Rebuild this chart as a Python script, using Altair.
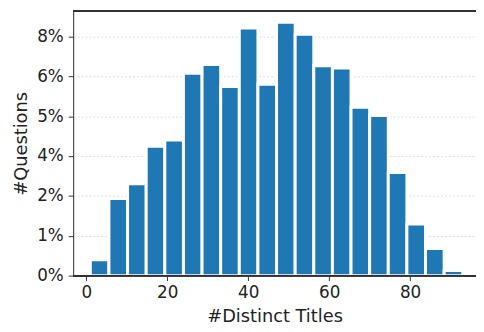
import altair as alt
import pandas as pd

# histogram bin edges (#Distinct Titles)
bin_lo = [1.0, 5.6, 10.2, 14.8, 19.4, 24.0, 28.6, 33.2, 37.8, 42.4,
          47.0, 51.6, 56.2, 60.8, 65.4, 70.0, 74.6, 79.2, 83.8, 88.4]
bin_hi = [5.6, 10.2, 14.8, 19.4, 24.0, 28.6, 33.2, 37.8, 42.4, 47.0,
          51.6, 56.2, 60.8, 65.4, 70.0, 74.6, 79.2, 83.8, 88.4, 93.0]
# share of questions (fraction)
share = [0.0050, 0.0242, 0.0288, 0.0406, 0.0425, 0.0635, 0.0662, 0.0593, 0.0777, 0.0600,
         0.0795, 0.0757, 0.0658, 0.0651, 0.0528, 0.0502, 0.0323, 0.0162, 0.0085, 0.0016]

y_tick_values = [0, 0.0125, 0.025, 0.0375, 0.05, 0.0625, 0.075]
y_tick_labels = ["0%", "1%", "2%", "4%", "5%", "6%", "8%"]
x_tick_values = [0, 20, 40, 60, 80]

df = pd.DataFrame({"lo": bin_lo, "hi": bin_hi, "share": share})

W, H = 408, 268
FONT = "DejaVu Sans"
TXT = "#222222"
SPINE = "#333333"

label_expr = " : ".join(
    [f"abs(datum.value - {v}) < 1e-6 ? '{l}'" for v, l in zip(y_tick_values, y_tick_labels)]
) + " : ''"

x_scale = alt.Scale(domain=[-3.24, 96.27], nice=False, zero=False)
y_scale = alt.Scale(domain=[0, 0.083], nice=False)

bars = alt.Chart(df).mark_rect(color="#1f77b4", stroke="white", strokeWidth=3).encode(
    x=alt.X("lo:Q", scale=x_scale,
            axis=alt.Axis(values=x_tick_values, title="#Distinct Titles", grid=False,
                          domain=True, domainColor=SPINE, domainWidth=1,
                          tickColor=SPINE, tickSize=5, tickWidth=1,
                          labelFont=FONT, labelFontSize=17, labelColor=TXT, labelPadding=4,
                          titleFont=FONT, titleFontSize=18, titleColor=TXT,
                          titleFontWeight="normal", titleY=41, titleBaseline="middle")),
    x2="hi:Q",
    y=alt.Y("share:Q", scale=y_scale,
            axis=alt.Axis(values=y_tick_values, labelExpr=label_expr, title="#Questions",
                          grid=True, gridColor="#d4d4d4", gridDash=[2, 2], gridWidth=0.8,
                          domain=True, domainColor=SPINE, domainWidth=1,
                          tickColor=SPINE, tickSize=5, tickWidth=1,
                          labelFont=FONT, labelFontSize=17, labelColor=TXT, labelPadding=5,
                          titleFont=FONT, titleFontSize=18, titleColor=TXT,
                          titleFontWeight="normal", titleX=-52, titleY=H / 2,
                          titleAngle=-90, titleAlign="center", titleBaseline="middle")),
    y2=alt.Y2(datum=0),
)

baseline = alt.Chart(df).mark_rule(color=SPINE, strokeWidth=1).encode(
    y=alt.Y(datum=0, scale=y_scale), x=alt.value(0), x2=alt.value(W)
)

top_spine = alt.Chart(df).mark_rule(color=SPINE, strokeWidth=1).encode(
    y=alt.value(0), x=alt.value(0), x2=alt.value(W)
)

chart = alt.layer(bars, baseline, top_spine).properties(
    width=W, height=H,
    autosize=alt.AutoSizeParams(type="none"),
    padding={"left": 66, "top": 1, "right": 0, "bottom": 50},
).configure_view(stroke=None).configure(background="white")

chart.save("out.html", embed_options={"renderer": "svg", "actions": False})
